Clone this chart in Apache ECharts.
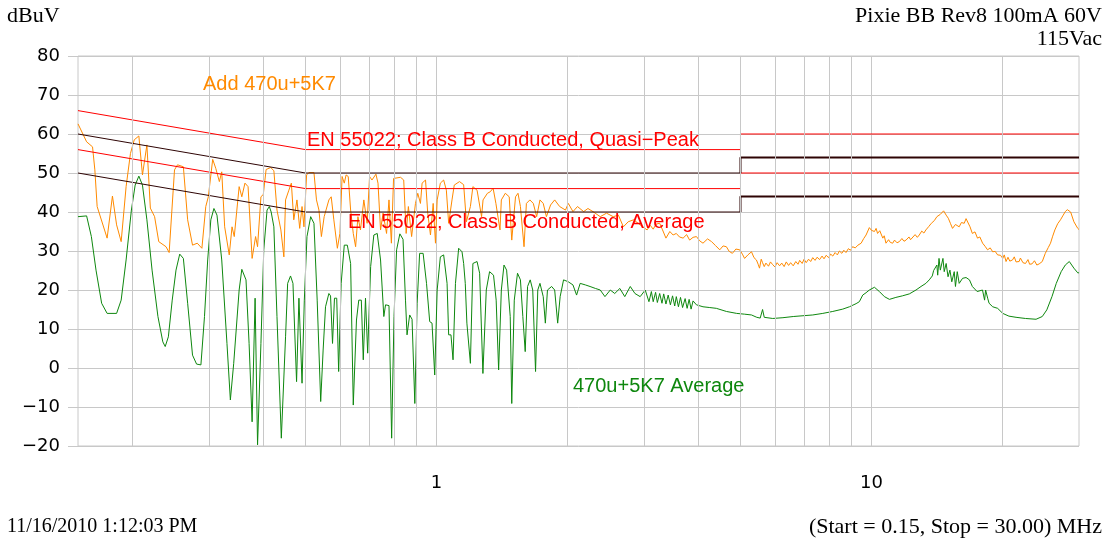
<!DOCTYPE html>
<html>
<head>
<meta charset="utf-8">
<script src="https://cdn.jsdelivr.net/npm/echarts@6/dist/echarts.min.js"></script>
<style>
html,body{margin:0;padding:0;background:#fff;}
#chart{width:1109px;height:543px;}
</style>
</head>
<body>
<div id="chart"></div>
<script>
// ---- Data (frequency in MHz, level in dBuV) ----
const qpFreq = [0.150,0.157,0.162,0.164,0.166,0.175,0.180,0.184,0.1885,0.1935,0.198,0.202,0.207,0.211,0.216,0.220,0.225,0.230,0.239,0.243,0.250,0.254,0.262,0.268,0.275,0.282,0.289,0.295,0.299,0.306,0.311,0.317,0.321,0.326,0.334,0.339,0.343,0.352,0.357,0.363,0.369,0.377,0.384,0.388,0.395,0.400,0.406,0.416,0.423,0.430,0.439,0.446,0.450,0.458,0.464,0.470,0.478,0.485,0.491,0.496,0.503,0.509,0.523,0.530,0.537,0.544,0.552,0.566,0.573,0.581,0.592,0.600,0.607,0.614,0.620,0.627,0.635,0.644,0.652,0.660,0.669,0.681,0.693,0.702,0.711,0.726,0.734,0.744,0.754,0.768,0.778,0.788,0.797,0.827,0.841,0.852,0.862,0.877,0.895,0.906,0.919,0.927,0.944,0.955,0.969,0.983,0.995,1.004,1.021,1.039,1.054,1.067,1.086,1.099,1.130,1.155,1.172,1.197,1.213,1.240,1.250,1.270,1.280,1.310,1.330,1.350,1.370,1.400,1.410,1.440,1.470,1.490,1.520,1.540,1.560,1.590,1.610,1.640,1.670,1.700,1.730,1.760,1.790,1.830,1.870,1.920,1.980,2.010,2.060,2.110,2.180,2.230,2.290,2.380,2.460,2.550,2.620,2.690,2.760,2.840,2.940,3.050,3.100,3.150,3.200,3.260,3.310,3.370,3.440,3.500,3.560,3.620,3.690,3.760,3.820,3.890,3.960,4.030,4.100,4.200,4.290,4.380,4.480,4.560,4.640,4.710,4.790,4.880,4.980,5.050,5.110,5.200,5.300,5.370,5.440,5.490,5.530,5.580,5.620,5.670,5.720,5.800,5.860,5.930,6.000,6.070,6.150,6.220,6.300,6.370,6.450,6.520,6.610,6.700,6.780,6.840,6.930,7.000,7.080,7.170,7.250,7.330,7.420,7.500,7.600,7.700,7.780,7.870,7.970,8.060,8.150,8.250,8.350,8.440,8.550,8.640,8.740,8.850,8.950,9.050,9.180,9.310,9.470,9.600,9.720,9.890,10.00,10.16,10.25,10.33,10.45,10.62,10.70,10.80,10.95,11.05,11.19,11.30,11.45,11.59,11.75,11.88,12.01,12.20,12.30,12.43,12.60,12.75,12.88,13.05,13.20,13.34,13.55,13.73,13.95,14.14,14.40,14.65,14.85,15.02,15.20,15.36,15.60,15.91,16.10,16.34,16.50,16.62,16.85,17.06,17.30,17.53,17.75,18.01,18.25,18.49,18.75,19.00,19.25,19.50,19.80,20.04,20.20,20.39,20.60,20.80,21.10,21.30,21.50,21.85,22.00,22.30,22.60,22.90,23.10,23.40,23.70,24.00,24.30,24.70,25.10,25.50,25.80,26.10,26.40,26.80,27.20,27.60,27.90,28.20,28.45,28.70,28.90,29.20,29.50,29.80,30.00];
const qpLevel = [62.6,58.0,56.7,50.8,41.4,33.3,44.1,36.7,32.4,46.5,55.0,58.5,59.5,49.5,57.2,41.0,38.8,32.4,31.1,29.6,50.8,52.1,51.6,38.0,31.5,32.0,30.7,41.4,43.9,53.5,51.2,47.8,50.3,36.2,29.0,36.2,33.7,46.5,43.9,47.4,46.5,28.1,33.7,31.1,43.9,44.5,50.9,51.4,50.6,40.5,35.4,28.5,43.1,45.6,47.4,38.0,43.1,35.8,41.4,36.2,49.5,50.1,50.1,43.1,40.5,33.7,38.8,43.1,43.9,38.0,30.7,34.5,49.1,47.4,49.5,49.1,40.5,34.5,31.1,38.8,35.4,43.1,37.1,49.1,48.2,49.7,47.4,35.4,39.7,34.5,43.1,32.0,48.6,48.9,48.2,34.5,41.4,33.7,42.2,44.8,42.2,47.4,48.2,39.7,34.1,42.2,32.0,43.1,47.4,48.2,45.6,37.1,43.1,46.9,47.8,47.0,37.5,41.4,46.5,45.6,46.1,38.8,43.1,44.8,45.2,46.1,42.2,35.4,43.1,44.8,43.9,32.8,43.9,44.8,41.4,31.1,42.2,43.1,42.2,38.8,43.1,42.2,38.8,41.8,43.1,41.4,40.5,42.2,40.1,41.4,40.1,40.9,40.1,38.8,39.7,38.8,39.2,36.2,37.5,38.0,36.7,35.4,36.6,35.6,36.9,37.1,35.4,33.3,35.0,34.1,34.5,33.6,33.3,34.2,32.8,33.5,33.7,32.6,32.0,33.1,32.4,31.4,30.3,31.3,31.1,29.9,29.4,30.5,30.3,29.2,28.1,29.0,29.8,28.3,27.7,26.6,25.6,27.9,27.0,26.0,26.9,26.1,27.2,26.5,25.9,27.0,26.2,26.9,26.0,27.2,26.3,27.0,26.2,27.3,26.6,27.6,26.8,27.9,27.0,27.9,27.3,28.3,27.6,28.4,27.8,28.7,28.0,28.9,28.3,29.2,28.7,29.6,29.0,30.0,29.4,30.2,29.6,30.6,30.2,31.1,30.8,31.5,32.0,33.2,34.1,36.0,35.3,35.0,35.8,34.5,35.2,33.3,33.9,32.0,32.9,32.2,32.0,32.8,32.1,32.4,33.2,32.5,32.8,33.6,32.9,33.3,34.2,33.5,34.1,35.1,34.6,35.4,36.3,37.1,37.8,38.8,39.4,40.3,39.2,38.4,37.0,35.8,36.8,36.2,37.3,37.1,38.3,38.0,36.2,34.5,34.9,33.3,33.6,32.0,31.2,30.3,30.8,29.8,29.9,29.0,28.9,28.1,29.0,27.3,28.4,27.4,27.7,28.5,27.2,27.3,28.2,27.0,26.8,27.8,26.6,26.7,27.5,26.4,26.7,27.3,29.4,30.9,32.0,33.8,35.4,37.0,38.0,39.2,40.1,40.6,40.7,40.0,39.7,37.5,37.0,35.8,35.5];

const avFreq = [0.150,0.157,0.161,0.165,0.170,0.175,0.184,0.1885,0.1935,0.199,0.203,0.207,0.211,0.216,0.222,0.229,0.235,0.238,0.242,0.247,0.252,0.257,0.262,0.268,0.275,0.281,0.2875,0.293,0.298,0.303,0.308,0.313,0.321,0.330,0.336,0.342,0.352,0.357,0.365,0.371,0.377,0.383,0.388,0.395,0.401,0.408,0.413,0.417,0.423,0.430,0.440,0.450,0.455,0.462,0.468,0.477,0.483,0.4875,0.491,0.497,0.504,0.514,0.523,0.532,0.542,0.549,0.556,0.566,0.571,0.577,0.583,0.590,0.596,0.604,0.614,0.624,0.635,0.644,0.655,0.663,0.672,0.679,0.687,0.690,0.695,0.706,0.718,0.731,0.744,0.757,0.764,0.778,0.789,0.799,0.810,0.824,0.838,0.849,0.856,0.868,0.879,0.892,0.903,0.915,0.932,0.949,0.965,0.977,0.991,1.004,1.021,1.039,1.058,1.067,1.080,1.092,1.106,1.125,1.145,1.155,1.165,1.175,1.197,1.213,1.240,1.257,1.279,1.302,1.325,1.353,1.372,1.390,1.410,1.430,1.450,1.478,1.490,1.510,1.536,1.560,1.580,1.600,1.620,1.643,1.665,1.690,1.710,1.730,1.760,1.780,1.800,1.840,1.870,1.900,1.925,1.960,2.010,2.060,2.100,2.140,2.200,2.255,2.320,2.380,2.440,2.510,2.570,2.640,2.710,2.790,2.860,2.940,3.020,3.080,3.120,3.150,3.190,3.220,3.260,3.300,3.330,3.370,3.410,3.450,3.490,3.530,3.560,3.600,3.640,3.680,3.730,3.770,3.810,3.850,3.890,3.960,4.100,4.250,4.400,4.640,4.900,5.110,5.300,5.450,5.550,5.620,5.670,5.930,6.260,6.610,6.960,7.330,7.730,8.150,8.590,8.900,9.220,9.380,9.550,9.720,9.890,10.16,10.43,10.71,11.00,11.38,11.78,12.22,12.66,13.00,13.34,13.58,13.80,13.90,14.14,14.20,14.30,14.40,14.60,14.70,14.85,15.00,15.15,15.30,15.50,15.60,15.75,15.91,16.20,16.50,16.80,17.06,17.50,18.00,18.20,18.30,18.50,18.64,19.00,19.50,20.04,20.70,21.50,22.60,23.90,24.70,25.30,26.00,26.60,27.30,27.90,28.50,29.20,29.80,30.00];
const avLevel = [38.8,39.0,33.7,25.1,16.6,14.0,14.0,17.4,27.7,40.5,46.9,49.2,46.9,38.0,25.1,13.2,6.7,5.5,8.0,17.4,25.1,29.2,28.1,16.6,3.3,1.0,0.8,13.2,27.7,38.0,40.9,39.2,27.7,6.3,-8.2,1.2,20.0,25.3,22.6,6.3,-13.8,17.9,-19.7,6.3,30.3,40.5,41.4,40.0,36.2,13.2,-18.0,8.0,21.7,23.6,21.7,-3.5,17.9,17.9,-3.9,17.4,33.7,38.8,37.1,17.4,-8.6,4.6,15.7,19.1,18.5,6.3,17.9,17.9,-0.9,21.7,31.5,31.5,26.8,-9.5,12.3,17.4,17.4,2.1,17.9,17.9,3.8,26.0,34.1,34.5,27.7,13.2,16.2,16.0,-18.0,13.2,30.3,34.4,33.0,17.4,8.5,13.6,12.5,-9.1,16.6,29.4,29.4,21.7,11.9,11.5,-1.8,20.0,28.5,29.0,21.7,8.5,8.5,2.1,21.7,30.7,29.8,26.8,21.7,11.5,1.2,26.8,27.3,24.3,-1.4,20.0,24.7,23.8,17.4,-0.5,20.0,26.4,25.1,13.2,-9.1,17.4,24.3,22.6,13.2,4.2,20.9,22.6,20.0,-0.9,20.0,21.7,18.3,11.5,20.0,20.9,20.0,11.5,18.3,22.6,22.1,21.3,18.7,21.7,21.3,20.9,20.4,20.0,18.3,20.0,19.1,20.4,18.3,20.9,19.1,18.3,20.0,17.0,19.6,17.0,19.4,16.8,19.1,16.6,19.0,16.4,18.7,16.2,18.5,15.9,18.3,15.7,18.1,15.5,17.8,15.3,17.6,15.1,17.2,16.2,15.7,15.5,15.3,14.5,14.0,13.8,13.6,13.0,12.8,15.0,13.0,12.7,12.9,13.2,13.4,13.6,14.0,14.5,15.1,15.7,16.5,17.0,18.7,19.3,20.0,20.7,19.6,18.3,17.6,18.1,18.5,19.0,20.0,20.9,21.7,22.6,23.6,25.0,26.4,23.8,28.1,25.1,28.1,24.7,26.8,23.4,25.1,22.1,24.7,20.9,24.7,21.7,23.0,23.2,22.6,20.9,19.6,20.0,17.4,20.0,17.9,16.6,15.7,15.3,14.0,13.3,13.0,12.7,12.5,13.2,14.9,18.3,21.7,24.7,26.4,27.3,25.6,24.4,24.4];

// EN 55022 Class B limits and -6 dB margin lines
const limitFreq = [0.15, 0.5, 5, 5, 30];
const qpLimit = [66, 56, 56, 60, 60];
const avLimit = [56, 46, 46, 50, 50];
const qpMargin = [60, 50, 50, 54, 54];
const avMargin = [50, 40, 40, 44, 44];

// Axis tick / grid values
const yTicks = [-20, -10, 0, 10, 20, 30, 40, 50, 60, 70, 80];
const xLabelValues = [1, 10];
const minorGridFreq = [0.2,0.3,0.4,0.5,0.6,0.7,0.8,0.9,2,3,4,5,6,7,8,9,20];

const pairs = (xs, ys) => xs.map((x, i) => [x, ys[i]]);

const GRID = '#c8c8c8';
const RED = '#ff0000';
const DARK = '#2e0404';
const ORANGE = '#ff8a00';
const GREEN = '#0e870e';

const chart = echarts.init(document.getElementById('chart'), null, {renderer: 'canvas'});

const lineSeries = (name, data, color, width, z) => ({
  name, type: 'line', data, showSymbol: false, symbol: 'none',
  lineStyle: {color, width}, itemStyle: {color}, z, silent: true,
  animation: false, clip: true
});

chart.setOption({
  animation: false,
  backgroundColor: '#ffffff',
  grid: {left: 78, right: 30, top: 56, bottom: 97, show: true, borderColor: GRID, borderWidth: 1},
  xAxis: {
    type: 'log', logBase: 10, min: 0.15, max: 30,
    axisLine: {show: false},
    axisTick: {show: true, length: 18, lineStyle: {color: GRID}, customValues: xLabelValues},
    axisLabel: {
      customValues: xLabelValues,
      fontFamily: 'DejaVu Sans', fontSize: 18, color: '#000', margin: 28,
      formatter: v => (Math.abs(v - 1) < 1e-6 ? '1' : (Math.abs(v - 10) < 1e-6 ? '10' : ''))
    },
    splitLine: {show: true, lineStyle: {color: GRID, width: 1}}
  },
  yAxis: {
    type: 'value', min: yTicks[0], max: yTicks[yTicks.length - 1], interval: 10,
    axisLine: {show: false},
    axisTick: {show: true, length: 10, lineStyle: {color: GRID}},
    axisLabel: {
      fontFamily: 'DejaVu Sans', fontSize: 18, color: '#000', margin: 18,
      formatter: v => String(v).replace('-', '\u2212')
    },
    splitLine: {show: true, lineStyle: {color: GRID, width: 1}}
  },
  series: [
    {
      type: 'line', data: [[1, null]], showSymbol: false, silent: true, z: 1,
      lineStyle: {opacity: 0},
      markLine: {
        silent: true, symbol: ['none', 'none'], animation: false,
        label: {show: false},
        lineStyle: {color: GRID, type: 'solid', width: 1},
        emphasis: {disabled: true},
        data: minorGridFreq.map(f => ({xAxis: f}))
      }
    },
    lineSeries('QP trace', pairs(qpFreq, qpLevel), ORANGE, 1, 3),
    lineSeries('AV trace', pairs(avFreq, avLevel), GREEN, 1, 3),
    lineSeries('QP limit', pairs(limitFreq, qpLimit), RED, 1, 4),
    lineSeries('AV limit', pairs(limitFreq, avLimit), RED, 1, 4),
    lineSeries('QP margin a', pairs(limitFreq.slice(0, 3), qpMargin.slice(0, 3)), DARK, 1, 4),
    lineSeries('QP margin b', pairs(limitFreq.slice(2), qpMargin.slice(2)), DARK, 2, 4),
    lineSeries('AV margin a', pairs(limitFreq.slice(0, 3), avMargin.slice(0, 3)), DARK, 1, 4),
    lineSeries('AV margin b', pairs(limitFreq.slice(2), avMargin.slice(2)), DARK, 2, 4)
  ],
  graphic: [
    {type: 'text', x: 7, y: 16, z: 10, style: {text: 'dBuV', font: '22px "Liberation Serif"', fill: '#000', align: 'left', verticalAlign: 'middle'}},
    {type: 'text', x: 1102, y: 16, z: 10, style: {text: 'Pixie BB Rev8 100mA 60V', font: '22px "Liberation Serif"', fill: '#000', align: 'right', verticalAlign: 'middle'}},
    {type: 'text', x: 1102, y: 39, z: 10, style: {text: '115Vac', font: '22px "Liberation Serif"', fill: '#000', align: 'right', verticalAlign: 'middle'}},
    {type: 'text', x: 7, y: 527, z: 10, style: {text: '11/16/2010 1:12:03 PM', font: '20px "Liberation Serif"', fill: '#000', align: 'left', verticalAlign: 'middle'}},
    {type: 'text', x: 1102, y: 527, z: 10, style: {text: '(Start = 0.15, Stop = 30.00) MHz', font: '22px "Liberation Serif"', fill: '#000', align: 'right', verticalAlign: 'middle'}},
    {type: 'text', x: 203, y: 84, z: 10, style: {text: 'Add 470u+5K7', font: '20px "Liberation Sans"', fill: ORANGE, align: 'left', verticalAlign: 'middle'}},
    {type: 'text', x: 307, y: 140, z: 10, style: {text: 'EN 55022; Class B Conducted, Quasi\u2212Peak', font: '20px "Liberation Sans"', fill: RED, align: 'left', verticalAlign: 'middle'}},
    {type: 'text', x: 348, y: 222.5, z: 10, style: {text: 'EN 55022; Class B Conducted, Average', font: '20px "Liberation Sans"', fill: RED, align: 'left', verticalAlign: 'middle'}},
    {type: 'text', x: 573, y: 386, z: 10, style: {text: '470u+5K7 Average', font: '20px "Liberation Sans"', fill: GREEN, align: 'left', verticalAlign: 'middle'}}
  ]
});
</script>
</body>
</html>
